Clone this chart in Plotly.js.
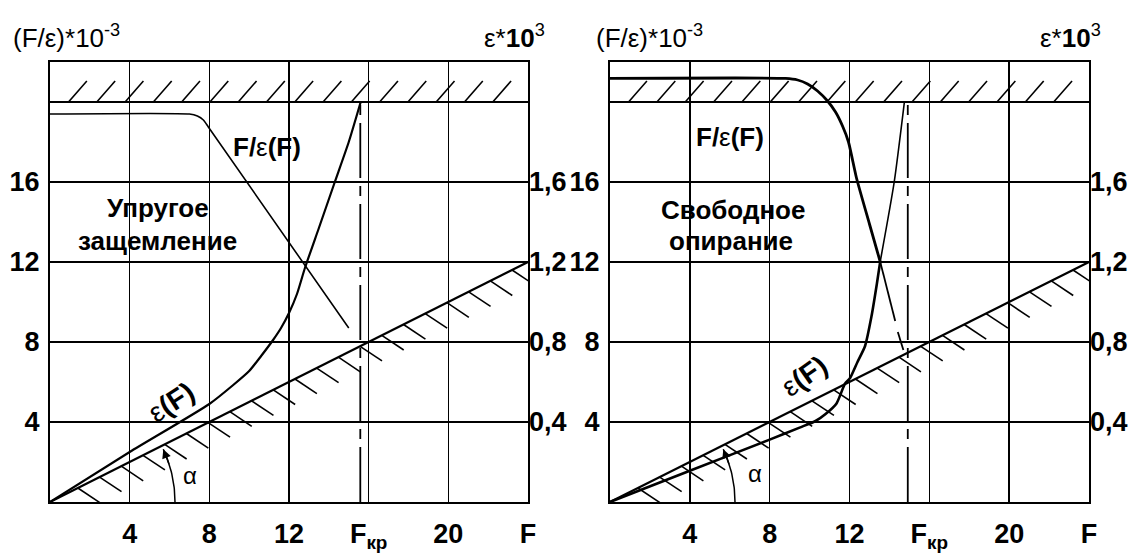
<!DOCTYPE html>
<html>
<head>
<meta charset="utf-8">
<script src="https://cdn.plot.ly/plotly-3.0.1.min.js"></script>
<style>
html,body{margin:0;padding:0;background:#fff;}
#chart{width:1134px;height:553px;}
</style>
</head>
<body>
<div id="chart"></div>
<script>
// ---------- data ----------
// F axis ticks
const fTickVals = [4, 8, 12, 16, 20, 24];
const fTickText = ['4', '8', '12', 'F<sub>кр</sub>', '20', 'F'];
// left axis (F/ε)*10^-3
const leftTickVals = [4, 8, 12, 16, 20];
const leftTickText = ['4', '8', '12', '16', ''];
// right axis ε*10^3
const rightTickVals = [0.4, 0.8, 1.2, 1.6];
const rightTickText = ['0,4', '0,8', '1,2', '1,6'];

// reference (hatched) line ε = F/E, in ε*10^3
const refF = [0, 24];
const refEps = [0, 1.2];

// Panel 1: Упругое защемление
const epsLeftF = [0, 4, 8, 9.2, 10, 10.6, 11.2, 11.6, 12, 12.4, 12.8, 13.5, 14.3, 15.0, 15.6];
const epsLeft  = [0, 0.25, 0.49, 0.585, 0.655, 0.73, 0.81, 0.87, 0.945, 1.04, 1.17, 1.37, 1.6, 1.8, 2.0];
const feLeftF = [0, 7.0, 7.4, 7.7, 7.95, 15.0];
const feLeft  = [19.4, 19.4, 19.3, 19.1, 18.75, 8.7];
const fkrLeft = 15.58;

// Panel 2: Свободное опирание
const epsRightLowF = [0, 4, 8, 9.5, 10.3, 10.8, 11.35, 11.78, 12.03, 12.4, 12.78, 13.1, 13.37, 13.53];
const epsRightLow  = [0, 0.156, 0.312, 0.372, 0.405, 0.44, 0.493, 0.593, 0.62, 0.7, 0.78, 0.927, 1.09, 1.197];
const epsRightUpF = [13.53, 14.24, 14.75];
const epsRightUp  = [1.197, 1.6, 2.0];
const feRightUpF = [0, 8.8, 9.4, 9.9, 10.4, 10.9, 11.3, 11.65, 11.95, 12.35, 13.0, 13.55];
const feRightUp  = [21.18, 21.18, 21.1, 20.9, 20.55, 20.05, 19.5, 18.8, 18.0, 16.2, 13.9, 11.97];
const feRightLowF = [13.55, 14.29, null, 14.42, 14.7];
const feRightLow  = [11.97, 9.05, null, 8.5, 7.6];
const fkrRight = 14.92;

// ---------- layout geometry ----------
const W = 1134, H = 553;
const M = {l: 50, r: 45, t: 62, b: 51};
const plotW = W - M.l - M.r;      // 1039
const plotH = H - M.t - M.b;      // 440
const panel1 = [50, 528], panel2 = [610, 1089];
const dom1 = [(panel1[0] - M.l) / plotW, (panel1[1] - M.l) / plotW];
const dom2 = [(panel2[0] - M.l) / plotW, (panel2[1] - M.l) / plotW];
const FMAX = 24, YMAX = 22, EPS_SCALE = 10;  // left axis = 10 * right axis
const WALL = 20;

const SANS = '"Liberation Sans", Arial, sans-serif';
const tickFont = {family: SANS, size: 27, color: '#000', weight: 'bold'};

function px2x(px) { return (px - M.l) / plotW; }
function py2y(py) { return (M.t + plotH - py) / plotH; }

// ---------- decorations built from the axes ----------
function refHatch() {
  const xs = [], ys = [];
  const slope = refEps[1] / refF[1] * EPS_SCALE;
  for (let f = 1.4; f <= 23.4; f += 1.09) {
    xs.push(f, f + 1.1, null);
    ys.push(f * slope, f * slope - 0.73, null);
  }
  return {xs, ys};
}
function wallHatch() {
  const xs = [], ys = [];
  for (let k = 0; k < 16; k++) {
    const f = 0.93 + 1.42 * k;
    xs.push(f, f + 0.92, null);
    ys.push(WALL, WALL + 1.05, null);
  }
  return {xs, ys};
}
function arc(pxPerX, pxPerY, r, a1) {
  const xs = [], ys = [];
  for (let a = 0; a <= a1 + 1e-9; a += 1) {
    const t = a * Math.PI / 180;
    xs.push(r * Math.cos(t) / pxPerX);
    ys.push(r * Math.sin(t) / pxPerY);
  }
  return {xs, ys};
}

const line = (w, extra) => Object.assign({color: '#000', width: w}, extra || {});
const traces = [];
function addPanel(xa, ya, yaE, epsSets, feSets, fkr, pxPerX) {
  const rh = refHatch();
  traces.push({x: refF, y: refEps, xaxis: xa, yaxis: yaE, mode: 'lines', line: line(2.2), hoverinfo: 'skip'});
  traces.push({x: rh.xs, y: rh.ys, xaxis: xa, yaxis: ya, mode: 'lines', line: line(1.6), hoverinfo: 'skip', connectgaps: false});
  const wh = wallHatch();
  traces.push({x: wh.xs, y: wh.ys, xaxis: xa, yaxis: ya, mode: 'lines', line: line(1.6), hoverinfo: 'skip', connectgaps: false});
  traces.push({x: [fkr, fkr], y: [0, WALL], xaxis: xa, yaxis: ya, mode: 'lines',
    line: line(1.8, {dash: '55px,8px,10px,8px'}), hoverinfo: 'skip'});
  epsSets.forEach(s => traces.push({x: s[0], y: s[1], xaxis: xa, yaxis: yaE, mode: 'lines',
    line: line(s[2], {shape: 'spline', smoothing: 0.6}), hoverinfo: 'skip'}));
  feSets.forEach(s => traces.push({x: s[0], y: s[1], xaxis: xa, yaxis: ya, mode: 'lines',
    line: line(s[2], {shape: s[3] || 'linear', smoothing: 0.5}), hoverinfo: 'skip', connectgaps: false}));
  const a = arc(pxPerX, plotH / YMAX, 125, 25);
  traces.push({x: a.xs, y: a.ys, xaxis: xa, yaxis: ya, mode: 'lines', line: line(1.5), hoverinfo: 'skip'});
  return a;
}
const pxX1 = (panel1[1] - panel1[0]) / FMAX, pxX2 = (panel2[1] - panel2[0]) / FMAX;
const arc1 = addPanel('x', 'y', 'y3', [[epsLeftF, epsLeft, 2.2]], [[feLeftF, feLeft, 1.6, 'spline']], fkrLeft, pxX1);
const arc2 = addPanel('x2', 'y2', 'y4',
  [[epsRightLowF, epsRightLow, 2.6], [epsRightUpF, epsRightUp, 1.6]],
  [[feRightUpF, feRightUp, 2.8, 'spline'], [feRightLowF, feRightLow, 1.8]], fkrRight, pxX2);

// ---------- axes ----------
function xAxis(dom, anchor) {
  return {domain: dom, anchor: anchor, range: [0, FMAX], tickvals: fTickVals, ticktext: fTickText,
    showgrid: true, gridcolor: '#000', gridwidth: 1.6, showline: true, mirror: true,
    linecolor: '#000', linewidth: 2, ticks: '', zeroline: false, tickfont: tickFont,
    ticklabelstandoff: 7, fixedrange: true};
}
function yAxis(anchor) {
  return {domain: [0, 1], anchor: anchor, range: [0, YMAX], tickvals: leftTickVals, ticktext: leftTickText,
    showgrid: true, gridcolor: '#000', gridwidth: 1.6, showline: true, mirror: true,
    linecolor: '#000', linewidth: 2, ticks: '', zeroline: false, tickfont: tickFont,
    ticklabelstandoff: 3, fixedrange: true};
}
function yAxisE(over, anchor) {
  return {overlaying: over, anchor: anchor, side: 'right', range: [0, YMAX / EPS_SCALE],
    tickvals: rightTickVals, ticktext: rightTickText, showgrid: false, showline: false,
    ticks: '', zeroline: false, tickfont: tickFont, ticklabelstandoff: 0, fixedrange: true};
}

// ---------- text ----------
const eps = '<span style="font-weight:normal">ε</span>';
const panelFont = {family: SANS, size: 26, color: '#000', weight: 'bold'};
function ann(text, x, y, xref, yref, font, extra) {
  return Object.assign({text: text, x: x, y: y, xref: xref, yref: yref, showarrow: false,
    font: font, xanchor: 'center', yanchor: 'middle'}, extra || {});
}
const titleFont = {family: SANS, size: 26, color: '#000'};
const annotations = [
  ann('(F/ε)*10<sup>-3</sup>', px2x(11), py2y(36), 'paper', 'paper', titleFont, {xanchor: 'left'}),
  ann('(F/ε)*10<sup>-3</sup>', px2x(594), py2y(36), 'paper', 'paper', titleFont, {xanchor: 'left'}),
  ann('ε*<b>10</b><sup>3</sup>', px2x(547), py2y(36), 'paper', 'paper', titleFont, {xanchor: 'right'}),
  ann('ε*<b>10</b><sup>3</sup>', px2x(1103), py2y(36), 'paper', 'paper', titleFont, {xanchor: 'right'}),
  // panel 1
  ann('F/' + eps + '(F)', 10.9, 17.75, 'x', 'y', panelFont),
  ann('Упругое', 5.4, 14.7, 'x', 'y', panelFont),
  ann('защемление', 5.4, 13.05, 'x', 'y', panelFont),
  ann(eps + '(F)', 6.07, 5.0, 'x', 'y', Object.assign({}, panelFont, {size: 28}), {textangle: -33}),
  ann('α', 7.03, 1.35, 'x', 'y', {family: SANS, size: 24, color: '#000'}),
  // panel 2
  ann('F/' + eps + '(F)', 6.0, 18.25, 'x2', 'y2', panelFont),
  ann('Свободное', 6.15, 14.6, 'x2', 'y2', panelFont),
  ann('опирание', 6.08, 13.05, 'x2', 'y2', panelFont),
  ann(eps + '(F)', 9.7, 6.3, 'x2', 'y2', Object.assign({}, panelFont, {size: 28}), {textangle: -35}),
  ann('α', 7.28, 1.45, 'x2', 'y2', {family: SANS, size: 24, color: '#000'})
];
// arrowheads at the upper end of the α arcs
function arrowAt(a, xref, yref) {
  const n = a.xs.length - 1;
  const r = 125, t1 = 25 * Math.PI / 180, t0 = 17 * Math.PI / 180;
  return {x: a.xs[n], y: a.ys[n], xref: xref, yref: yref, text: '', showarrow: true,
    ax: r * (Math.cos(t0) - Math.cos(t1)), ay: -r * (Math.sin(t0) - Math.sin(t1)),
    arrowhead: 2, arrowsize: 1.2, arrowwidth: 1.5, arrowcolor: '#000', standoff: 0};
}
annotations.push(arrowAt(arc1, 'x', 'y'), arrowAt(arc2, 'x2', 'y2'));

const layout = {
  width: W, height: H, margin: M, showlegend: false,
  paper_bgcolor: '#fff', plot_bgcolor: '#fff',
  font: {family: SANS, color: '#000'},
  xaxis: xAxis(dom1, 'y'), yaxis: yAxis('x'),
  xaxis2: xAxis(dom2, 'y2'), yaxis2: yAxis('x2'),
  yaxis3: yAxisE('y', 'x'), yaxis4: yAxisE('y2', 'x2'),
  annotations: annotations
};
Plotly.newPlot('chart', traces, layout, {displayModeBar: false, staticPlot: true});
</script>
</body>
</html>
